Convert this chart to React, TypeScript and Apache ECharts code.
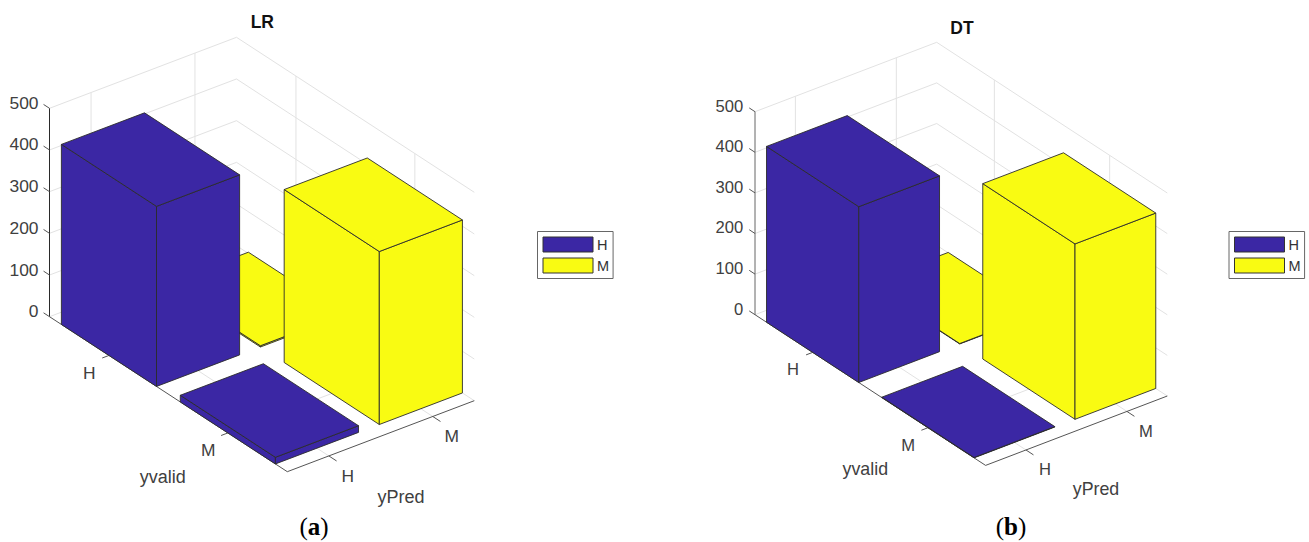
import React, { useEffect, useRef } from "react";
import * as echarts from "echarts";

// ---- data ----
const rowLabels = ["H", "M"]; // yvalid
const colLabels = ["H", "M"]; // yPred
const zTicks = [0, 100, 200, 300, 400, 500];
const lrH = [432, 16]; // yPred = H, rows yvalid H, M
const lrM = [3, 415]; // yPred = M
const dtH = [433, 1];
const dtM = [1, 432];

// ---- view ----
const BLUE = "#3B27A4";
const YELLOW = "#F9FB12";
const FONT = "'Liberation Sans', Arial, sans-serif";
const ROW_RANGE = [0.5, 2.5];
const COL_RANGE = [0.6, 2.4];
const Z_MAX = 500;
const BAR_HALF = 0.4;

type Panel = any;
const panelA: Panel = {
  title: "LR", titleX: 262.3, titleY: 13,
  L: [49.5, 316.7], U: [237.8, 155], V: [187, -71], Zpx: 208.4,
  zLabelDx: -11, zLabelDy: -5.5, tickFont: 17.4, axisFont: 18,
  zAxisColor: "#2a2a2a",
  yvalidAt: [162.7, 476.7], yPredAt: [401, 497.3],
  values: [lrH, lrM],
  captionAt: [314, 526], caption: "a",
  legend: { left: 537.5, top: 231.5 },
};
const panelB: Panel = {
  title: "DT", titleX: 962, titleY: 19,
  L: [755, 314.7], U: [230.6, 150.7], V: [181.7, -69.4], Zpx: 203,
  zLabelDx: -11.7, zLabelDy: -5.7, tickFont: 16.6, axisFont: 17.8,
  zAxisColor: "#666666",
  yvalidAt: [865.3, 469.3], yPredAt: [1096, 489],
  values: [dtH, dtM],
  captionAt: [1011, 526], caption: "b",
  legend: { left: 1229, top: 231.5 },
};

function project(p: Panel, row: number, col: number, z: number): number[] {
  const u = (row - ROW_RANGE[0]) / (ROW_RANGE[1] - ROW_RANGE[0]);
  const v = (col - COL_RANGE[0]) / (COL_RANGE[1] - COL_RANGE[0]);
  return [
    p.L[0] + u * p.U[0] + v * p.V[0],
    p.L[1] + u * p.U[1] + v * p.V[1] - (z / Z_MAX) * p.Zpx,
  ];
}

function barSeries(p: Panel, rowIdx: number, colIdx: number) {
  const color = colIdx === 0 ? BLUE : YELLOW;
  return {
    type: "custom",
    name: colLabels[colIdx],
    coordinateSystem: "cartesian2d",
    xAxisIndex: 0,
    yAxisIndex: 0,
    clip: false,
    silent: true,
    itemStyle: { color, borderColor: "#333", borderWidth: 1 },
    data: [[rowIdx + 1, colIdx + 1, p.values[colIdx][rowIdx]]],
    renderItem: (_: any, api: any) => {
      const r = api.value(0), c = api.value(1), z = api.value(2);
      const r0 = r - BAR_HALF, r1 = r + BAR_HALF, c0 = c - BAR_HALF, c1 = c + BAR_HALF;
      const P = (a: number, b: number, h: number) => api.coord(project(p, a, b, h));
      const style = { fill: color, stroke: "#2b2b2b", lineWidth: 0.9, lineJoin: "round" };
      return {
        type: "group",
        children: [
          { type: "polygon", shape: { points: [P(r0, c0, 0), P(r1, c0, 0), P(r1, c0, z), P(r0, c0, z)] }, style },
          { type: "polygon", shape: { points: [P(r1, c0, 0), P(r1, c1, 0), P(r1, c1, z), P(r1, c0, z)] }, style },
          { type: "polygon", shape: { points: [P(r0, c0, z), P(r1, c0, z), P(r1, c1, z), P(r0, c1, z)] }, style },
        ],
      };
    },
  };
}

function frameSeries(p: Panel) {
  return {
    type: "custom",
    name: "frame " + p.title,
    coordinateSystem: "cartesian2d",
    xAxisIndex: 0,
    yAxisIndex: 0,
    clip: false,
    silent: true,
    data: [[0, 0]],
    renderItem: (_: any, api: any) => {
      const [rMin, rMax] = ROW_RANGE;
      const [cMin, cMax] = COL_RANGE;
      const P = (a: number, b: number, h: number) => api.coord(project(p, a, b, h));
      const kids: any[] = [];
      const line = (a: number[], b: number[], stroke: string, lineWidth = 1) =>
        kids.push({
          type: "line",
          shape: { x1: a[0], y1: a[1], x2: b[0], y2: b[1] },
          style: { stroke, lineWidth },
        });
      const text = (t: string, at: number[], fontSize: number, align = "center") =>
        kids.push({
          type: "text",
          style: {
            text: t, x: at[0], y: at[1], fontSize, fontFamily: FONT, fill: "#404040",
            align, verticalAlign: "middle",
          },
        });
      const GRID = "#e2e2e2";
      // walls and floor grid
      zTicks.forEach((z) => {
        line(P(rMin, cMin, z), P(rMin, cMax, z), GRID);
        line(P(rMin, cMax, z), P(rMax, cMax, z), GRID);
      });
      colLabels.forEach((_l, i) => {
        line(P(rMin, i + 1, 0), P(rMin, i + 1, Z_MAX), GRID);
        line(P(rMin, i + 1, 0), P(rMax, i + 1, 0), GRID);
      });
      rowLabels.forEach((_l, i) => {
        line(P(i + 1, cMax, 0), P(i + 1, cMax, Z_MAX), GRID);
        line(P(i + 1, cMin, 0), P(i + 1, cMax, 0), GRID);
      });
      // axes
      line(P(rMin, cMin, 0), P(rMin, cMin, Z_MAX), p.zAxisColor);
      line(P(rMin, cMin, 0), P(rMax, cMin, 0), "#555");
      line(P(rMax, cMin, 0), P(rMax, cMax, 0), "#555");
      zTicks.forEach((z) => {
        const a = P(rMin, cMin, z);
        line(a, P(rMin - 0.05, cMin, z), "#555");
        text(String(z), [a[0] + p.zLabelDx, a[1] + p.zLabelDy], p.tickFont, "right");
      });
      rowLabels.forEach((l, i) => {
        const a = P(i + 1, cMin, 0);
        line(a, P(i + 1, cMin - 0.065, 0), "#555");
        text(l, [a[0] - 19.7, a[1] + 17.5], p.tickFont);
      });
      colLabels.forEach((l, i) => {
        const a = P(rMax, i + 1, 0);
        line(a, P(rMax + 0.065, i + 1, 0), "#555");
        text(l, [a[0] + 19, a[1] + 20], p.tickFont);
      });
      text("yvalid", api.coord(p.yvalidAt), p.axisFont);
      text("yPred", api.coord(p.yPredAt), p.axisFont);
      return { type: "group", children: kids };
    },
  };
}

function panelSeries(p: Panel) {
  // painter's order: back bar first, front bar last
  return [
    frameSeries(p),
    barSeries(p, 0, 1),
    barSeries(p, 0, 0),
    barSeries(p, 1, 1),
    barSeries(p, 1, 0),
  ];
}

function legendOf(p: Panel) {
  return {
    data: colLabels,
    orient: "vertical",
    left: p.legend.left,
    top: p.legend.top,
    itemWidth: 50,
    itemHeight: 15,
    itemGap: 5,
    padding: [5, 4, 5, 5],
    borderColor: "#666",
    borderWidth: 1,
    backgroundColor: "#fff",
    selectedMode: false,
    icon: "rect",
    itemStyle: { borderColor: "#333", borderWidth: 1 },
    textStyle: { fontFamily: FONT, fontSize: 14.5, color: "#333", padding: [0, 0, 0, -1] },
  };
}

function titleOf(p: Panel) {
  return {
    text: p.title,
    left: p.titleX,
    top: p.titleY,
    padding: 0,
    textAlign: "center",
    textStyle: { fontFamily: FONT, fontSize: 17.5, fontWeight: "bold", color: "#111" },
  };
}

function captionOf(p: Panel) {
  return {
    type: "text",
    x: p.captionAt[0],
    y: p.captionAt[1],
    style: {
      text: "(" + "{b|" + p.caption + "})",
      align: "center",
      verticalAlign: "middle",
      fontFamily: "'Liberation Serif', serif",
      fontSize: 25,
      fill: "#000",
      rich: { b: { fontFamily: "'Liberation Serif', serif", fontSize: 25, fontWeight: "bold", fill: "#000" } },
    },
  };
}

export default function App() {
  const ref = useRef<HTMLDivElement>(null);
  useEffect(() => {
    const chart = echarts.init(ref.current!, undefined, { renderer: "svg" });
    chart.setOption({
      animation: false,
      backgroundColor: "#fff",
      title: [titleOf(panelA), titleOf(panelB)],
      legend: [legendOf(panelA), legendOf(panelB)],
      grid: { left: 0, top: 0, width: 1309, height: 542 },
      xAxis: { type: "value", min: 0, max: 1309, show: false },
      yAxis: { type: "value", min: 0, max: 542, inverse: true, show: false },
      graphic: [captionOf(panelA), captionOf(panelB)],
      series: [...panelSeries(panelA), ...panelSeries(panelB)],
    });
    return () => chart.dispose();
  }, []);
  return <div ref={ref} style={{ position: "fixed", left: 0, top: 0, width: 1309, height: 542 }} />;
}
